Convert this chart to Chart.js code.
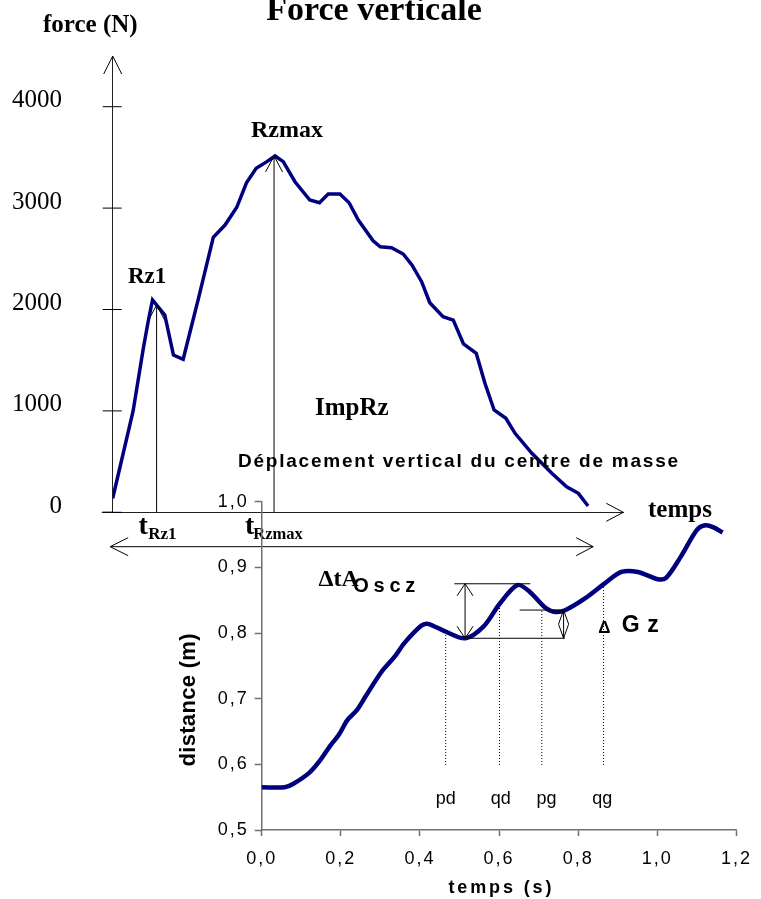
<!DOCTYPE html>
<html>
<head>
<meta charset="utf-8">
<title>Force verticale</title>
<script src="https://cdn.jsdelivr.net/npm/chart.js@4"></script>
<style>
    html, body { margin: 0; padding: 0; background: #fff; }
    #wrap { position: relative; width: 761px; height: 899px; }
    #wrap canvas { position: absolute; left: 0; top: 0; }
</style>
</head>
<body>
<div id="wrap">
    <canvas id="forceChart" width="761" height="899"></canvas>
    <canvas id="dispChart" width="761" height="899"></canvas>
</div>
<script>
// Force curve (time in s, force in N)
const forceTime = [0, 0.040, 0.060, 0.070, 0.078, 0.102, 0.119, 0.138, 0.168, 0.197, 0.220, 0.243, 0.262, 0.281, 0.302,
    0.318, 0.334, 0.357, 0.386, 0.405, 0.422, 0.445, 0.463, 0.481, 0.510, 0.524, 0.546, 0.569, 0.586, 0.605,
    0.621, 0.647, 0.667, 0.687, 0.712, 0.729, 0.747, 0.770, 0.788, 0.821, 0.860, 0.889, 0.912, 0.931];
const forceValues = [138, 999, 1617, 1896, 2094, 1946, 1551, 1509, 2110, 2712, 2833, 3008, 3250, 3392, 3458,
    3514, 3458, 3260, 3080, 3053, 3139, 3139, 3053, 2883, 2678, 2619, 2609, 2547, 2439, 2274,
    2067, 1929, 1896, 1660, 1568, 1272, 1009, 927, 779, 582, 385, 252, 187, 62];
const forceTicks = [0, 1000, 2000, 3000, 4000];

// Vertical displacement of the centre of mass (time in s, distance in m)
const dispTime = [0, 0.058, 0.079, 0.12, 0.145, 0.174, 0.195, 0.216, 0.241, 0.262, 0.303, 0.336, 0.361, 0.403, 0.42,
    0.465, 0.515, 0.561, 0.602, 0.646, 0.677, 0.718, 0.743, 0.768, 0.818, 0.868, 0.909, 0.951, 1.001, 1.022,
    1.059, 1.1, 1.121, 1.142, 1.165];
const dispValues = [0.565, 0.565, 0.570, 0.587, 0.604, 0.629, 0.645, 0.667, 0.683, 0.703, 0.741, 0.764, 0.785, 0.811, 0.814,
    0.802, 0.792, 0.810, 0.845, 0.873, 0.863, 0.838, 0.832, 0.835, 0.853, 0.876, 0.893, 0.893, 0.882, 0.884,
    0.916, 0.957, 0.964, 0.961, 0.953];
const distTicks = [0.5, 0.6, 0.7, 0.8, 0.9, 1.0];
const timeTicks = [0, 0.2, 0.4, 0.6, 0.8, 1.0, 1.2];

// Marker times on the displacement curve
const phaseLabels = ['pd', 'qd', 'pg', 'qg'];
const phaseTimes = [0.465, 0.601, 0.708, 0.864];
const phaseTops = [0.804, 0.848, 0.835, 0.870];

const tRz1 = 0.086;
const rz1 = 2044;
const tRzmax = 0.316;
const rzmax = 3514;

const SERIF = '"Liberation Serif", "Times New Roman", serif';
const SANS = '"Liberation Sans", Arial, sans-serif';
const NAVY = '#00007f';

function line(ctx, x1, y1, x2, y2) {
    ctx.beginPath();
    ctx.moveTo(x1, y1);
    ctx.lineTo(x2, y2);
    ctx.stroke();
}

// open "V" arrow head, dx/dy = direction the arrow points to
function arrowHead(ctx, tx, ty, dx, dy, len, half) {
    const bx = tx - dx * len, by = ty - dy * len;
    const nx = -dy, ny = dx;
    ctx.beginPath();
    ctx.moveTo(bx + nx * half, by + ny * half);
    ctx.lineTo(tx, ty);
    ctx.lineTo(bx - nx * half, by - ny * half);
    ctx.stroke();
}

function text(ctx, str, x, y, font, align) {
    ctx.font = font;
    ctx.letterSpacing = '0px';
    ctx.textAlign = align || 'left';
    ctx.textBaseline = 'alphabetic';
    ctx.fillText(str, x, y);
}

// letter-spaced text stretched over a given width
function spaced(ctx, str, x, y, font, width, align) {
    ctx.font = font;
    ctx.letterSpacing = '0px';
    const w0 = ctx.measureText(str).width;
    const ls = (width - w0) / (str.length - 1);
    ctx.letterSpacing = ls.toFixed(2) + 'px';
    ctx.textAlign = 'left';
    ctx.textBaseline = 'alphabetic';
    ctx.fillText(str, align === 'center' ? x - width / 2 : x, y);
    ctx.letterSpacing = '0px';
}

const forceDecor = {
    id: 'forceDecor',
    afterDraw(chart) {
        const { ctx, chartArea, scales: { x, y } } = chart;
        const px = v => x.getPixelForValue(v);
        const py = v => y.getPixelForValue(v);
        ctx.save();
        ctx.strokeStyle = '#000';
        ctx.fillStyle = '#000';
        ctx.lineWidth = 1;

        // crossing ticks on the force axis
        forceTicks.forEach(v => line(ctx, chartArea.left - 10, py(v), chartArea.left + 9, py(v)));
        line(ctx, chartArea.left - 11, py(0), chartArea.left, py(0));
        arrowHead(ctx, chartArea.left, chartArea.top, 0, -1, 18, 9);
        arrowHead(ctx, chartArea.right, py(0), 1, 0, 17, 9);

        // t_Rz1 and t_Rzmax markers
        line(ctx, px(tRz1), py(0), px(tRz1), py(rz1));
        arrowHead(ctx, px(tRz1), py(rz1), 0, -1, 15, 8);
        line(ctx, px(tRzmax), py(0), px(tRzmax), py(rzmax));
        arrowHead(ctx, px(tRzmax), py(rzmax), 0, -1, 16, 8.5);

        // delta tA double arrow
        const yA = py(-339);
        line(ctx, px(-0.005), yA, px(0.941), yA);
        arrowHead(ctx, px(-0.005), yA, -1, 0, 18, 9);
        arrowHead(ctx, px(0.941), yA, 1, 0, 17, 9);

        text(ctx, 'Force verticale', 374, 20, 'bold 34px ' + SERIF, 'center');
        text(ctx, 'force (N)', 43, 32, 'bold 25px ' + SERIF);
        text(ctx, 'Rzmax', 251, 137, 'bold 24px ' + SERIF);
        text(ctx, 'Rz1', 128, 283, 'bold 23px ' + SERIF);
        text(ctx, 'ImpRz', 315, 415, 'bold 25px ' + SERIF);
        text(ctx, 'temps', 648, 517, 'bold 25px ' + SERIF);
        text(ctx, 't', 138.5, 534, 'bold 28px ' + SERIF);
        text(ctx, 'Rz1', 148.3, 538.5, 'bold 17px ' + SERIF);
        text(ctx, 't', 245, 534, 'bold 28px ' + SERIF);
        text(ctx, 'Rzmax', 253.3, 538.5, 'bold 16.5px ' + SERIF);
        ctx.restore();
    }
};

const dispDecor = {
    id: 'dispDecor',
    beforeDraw(chart) {
        // the reference draws its Arial tick labels slightly spaced
        chart.ctx.letterSpacing = '2px';
    },
    afterDraw(chart) {
        const { ctx, scales: { x, y } } = chart;
        const px = v => x.getPixelForValue(v);
        const py = v => y.getPixelForValue(v);
        ctx.letterSpacing = '0px';
        ctx.save();
        ctx.strokeStyle = '#000';
        ctx.fillStyle = '#000';
        ctx.lineWidth = 1;

        // dotted phase markers
        ctx.setLineDash([1, 2]);
        phaseTimes.forEach((t, i) => line(ctx, px(t), py(0.599), px(t), py(phaseTops[i])));
        ctx.setLineDash([]);
        const shift = [0, 1.3, 4.7, -1.3];
        phaseLabels.forEach((lbl, i) => text(ctx, lbl, px(phaseTimes[i]) + shift[i], 804, '18px ' + SANS, 'center'));

        // oscillation amplitude and delta Gz
        line(ctx, px(0.487), py(0.875), px(0.679), py(0.875));
        line(ctx, px(0.514), py(0.792), px(0.766), py(0.792));
        line(ctx, px(0.652), py(0.835), px(0.760), py(0.835));
        line(ctx, px(0.514), py(0.875), px(0.514), py(0.792));
        arrowHead(ctx, px(0.514), py(0.875), 0, -1, 12, 8);
        arrowHead(ctx, px(0.514), py(0.792), 0, 1, 12, 8);
        line(ctx, px(0.763), py(0.835), px(0.763), py(0.792));
        arrowHead(ctx, px(0.763), py(0.835), 0, -1, 14, 5);
        arrowHead(ctx, px(0.763), py(0.792), 0, 1, 14, 5);

        text(ctx, '\u0394tA', 318.5, 586, 'bold 24px ' + SERIF);
        spaced(ctx, 'Oscz', 353.3, 592, 'bold 20px ' + SANS, 62);
        text(ctx, '\u0394', 598.3, 633.3, 'bold 17px ' + SANS);
        spaced(ctx, 'Gz', 621.7, 632, 'bold 23px ' + SANS, 37);

        spaced(ctx, 'D\u00e9placement vertical du centre de masse', 238, 466.7, 'bold 19px ' + SANS, 440);
        spaced(ctx, 'temps (s)', 500, 893.3, 'bold 18px ' + SANS, 103, 'center');

        ctx.save();
        ctx.translate(195, 700);
        ctx.rotate(-Math.PI / 2);
        spaced(ctx, 'distance (m)', 0, 0, 'bold 22px ' + SANS, 133, 'center');
        ctx.restore();
        ctx.restore();
    }
};

function commaLabel(v) {
    return Number(v).toFixed(1).replace('.', ',');
}

document.addEventListener('DOMContentLoaded', () => {
    new Chart(document.getElementById('forceChart').getContext('2d'), {
        type: 'line',
        data: {
            datasets: [{
                label: 'Force verticale',
                data: forceTime.map((t, i) => ({ x: t, y: forceValues[i] })),
                borderColor: NAVY,
                borderWidth: 3.5,
                pointRadius: 0,
                tension: 0,
                fill: false
            }]
        },
        options: {
            responsive: false,
            animation: false,
            events: [],
            layout: { padding: { left: 0, top: 56, right: 137.7, bottom: 386.7 } },
            scales: {
                x: {
                    type: 'linear',
                    min: 0,
                    max: 1,
                    ticks: { display: false },
                    grid: { display: false },
                    border: { color: '#222', width: 1 },
                    afterFit: s => { s.height = 0; }
                },
                y: {
                    min: 0,
                    max: 4500,
                    afterBuildTicks: s => { s.ticks = forceTicks.map(v => ({ value: v })); },
                    afterFit: s => { s.width = 112.7; },
                    ticks: {
                        color: '#000',
                        font: { family: SERIF, size: 25 },
                        padding: 4,
                        labelOffset: -6,
                        callback: v => String(v)
                    },
                    grid: { display: false, drawTicks: true, tickLength: 46.7 },
                    border: { color: '#222', width: 1 }
                }
            },
            plugins: { legend: { display: false }, tooltip: { enabled: false } }
        },
        plugins: [forceDecor]
    });

    new Chart(document.getElementById('dispChart').getContext('2d'), {
        type: 'line',
        data: {
            datasets: [{
                label: 'distance',
                data: dispTime.map((t, i) => ({ x: t, y: dispValues[i] })),
                borderColor: NAVY,
                borderWidth: 4.5,
                pointRadius: 0,
                tension: 0.3,
                fill: false
            }]
        },
        options: {
            responsive: false,
            animation: false,
            events: [],
            layout: { padding: { left: 161.7, top: 501.7, right: 17.7, bottom: 0 } },
            scales: {
                x: {
                    type: 'linear',
                    min: 0,
                    max: 1.2,
                    afterBuildTicks: s => { s.ticks = timeTicks.map(v => ({ value: v })); },
                    afterFit: s => { s.height = 69; },
                    ticks: {
                        color: '#000',
                        font: { family: SANS, size: 18 },
                        padding: 12,
                        maxRotation: 0,
                        callback: commaLabel
                    },
                    grid: { drawOnChartArea: false, tickLength: 6, color: '#707070', tickWidth: 1.5 },
                    border: { color: '#707070', width: 1.5 }
                },
                y: {
                    min: 0.5,
                    max: 1.0,
                    afterBuildTicks: s => { s.ticks = distTicks.map(v => ({ value: v })); },
                    afterFit: s => { s.width = 100; },
                    ticks: {
                        color: '#000',
                        font: { family: SANS, size: 18 },
                        padding: 6,
                        callback: commaLabel
                    },
                    grid: { drawOnChartArea: false, tickLength: 7, color: '#707070', tickWidth: 1.5 },
                    border: { color: '#707070', width: 1.5 }
                }
            },
            plugins: { legend: { display: false }, tooltip: { enabled: false } }
        },
        plugins: [dispDecor]
    });
});
</script>
</body>
</html>
